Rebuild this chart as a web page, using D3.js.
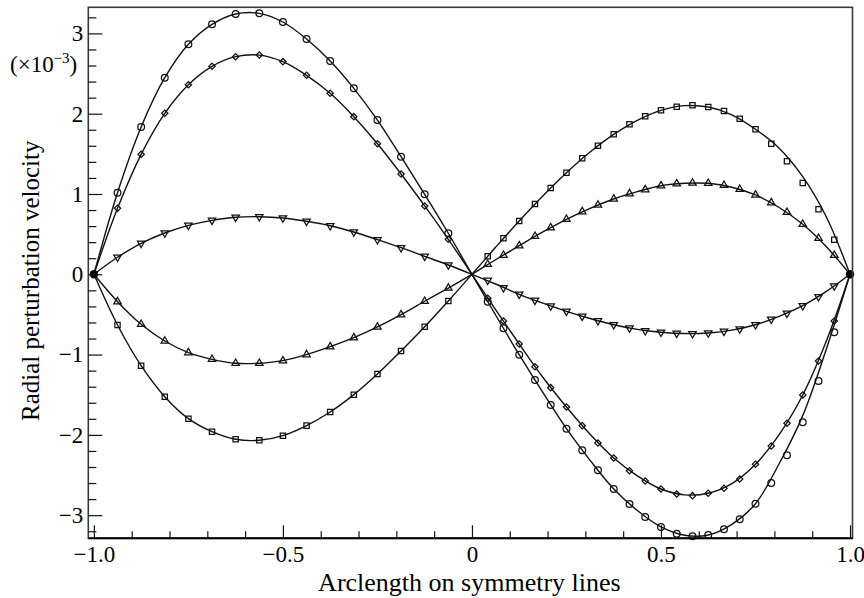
<!DOCTYPE html>
<html>
<head>
<meta charset="utf-8">
<script src="https://cdn.jsdelivr.net/npm/d3@7/dist/d3.min.js"></script>
<style>
  html, body { margin: 0; padding: 0; background: #fff; }
  svg { display: block; }
  text { font-family: "Liberation Serif", "Times New Roman", "DejaVu Serif", serif; fill: #000; }
</style>
</head>
<body>
<svg id="chart" width="864" height="598"></svg>
<script>
// Arclength stations of the fitted curves (step 1/16 over the whole line)
const arcCurve = [-1, -0.9375, -0.875, -0.8125, -0.75, -0.6875, -0.625, -0.5625, -0.5, -0.4375, -0.375, -0.3125, -0.25, -0.1875, -0.125, -0.0625,
  0, 0.0625, 0.125, 0.1875, 0.25, 0.3125, 0.375, 0.4375, 0.5, 0.5625, 0.625, 0.6875, 0.75, 0.8125, 0.875, 0.9375, 1];
// Computed stations on the left branch (step 1/16) and on the right branch (step 1/24)
const arcLeft = [-0.9375, -0.875, -0.8125, -0.75, -0.6875, -0.625, -0.5625, -0.5, -0.4375, -0.375, -0.3125, -0.25, -0.1875, -0.125, -0.0625];
const arcRight = [0.0417, 0.0833, 0.125, 0.1667, 0.2083, 0.25, 0.2917, 0.3333, 0.375, 0.4167, 0.4583, 0.5,
  0.5417, 0.5833, 0.625, 0.6667, 0.7083, 0.75, 0.7917, 0.8333, 0.875, 0.9167, 0.9583];

// Circles
const circCurve = [0, 1.016, 1.834, 2.448, 2.864, 3.113, 3.242, 3.250, 3.142, 2.930, 2.656, 2.316, 1.920, 1.464, 0.996, 0.511,
  0, -0.507, -1.001, -1.472, -1.923, -2.317, -2.674, -2.942, -3.147, -3.250, -3.247, -3.114, -2.857, -2.360, -1.760, -0.930, 0];
const circLeft = [1.016, 1.834, 2.448, 2.864, 3.113, 3.242, 3.250, 3.142, 2.930, 2.656, 2.316, 1.920, 1.464, 0.996, 0.511];
const circRight = [-0.341, -0.672, -1.001, -1.316, -1.628, -1.923, -2.192, -2.441, -2.674, -2.861, -3.023, -3.147,
  -3.230, -3.263, -3.247, -3.176, -3.051, -2.857, -2.599, -2.254, -1.843, -1.329, -0.722];

// Diamonds
const diamCurve = [0, 0.822, 1.494, 2.005, 2.361, 2.590, 2.710, 2.730, 2.648, 2.478, 2.254, 1.963, 1.626, 1.249, 0.851, 0.436,
  0, -0.441, -0.868, -1.282, -1.653, -1.993, -2.288, -2.510, -2.674, -2.747, -2.727, -2.607, -2.366, -1.997, -1.503, -0.831, 0];
const diamLeft = [0.822, 1.494, 2.005, 2.361, 2.590, 2.710, 2.730, 2.648, 2.478, 2.254, 1.963, 1.626, 1.249, 0.851, 0.436];
const diamRight = [-0.299, -0.582, -0.868, -1.151, -1.412, -1.653, -1.885, -2.101, -2.288, -2.446, -2.574, -2.674,
  -2.736, -2.757, -2.727, -2.665, -2.549, -2.366, -2.138, -1.856, -1.503, -1.080, -0.582];

// Downward triangles
const downCurve = [0, 0.212, 0.386, 0.514, 0.610, 0.672, 0.710, 0.717, 0.701, 0.660, 0.605, 0.527, 0.431, 0.331, 0.224, 0.116,
  0, -0.121, -0.249, -0.360, -0.461, -0.551, -0.628, -0.686, -0.722, -0.738, -0.731, -0.696, -0.628, -0.523, -0.391, -0.213, 0];
const downLeft = [0.212, 0.386, 0.514, 0.610, 0.672, 0.710, 0.717, 0.701, 0.660, 0.605, 0.527, 0.431, 0.331, 0.224, 0.116];
const downRight = [-0.075, -0.167, -0.249, -0.324, -0.395, -0.461, -0.523, -0.578, -0.628, -0.669, -0.702, -0.722,
  -0.735, -0.740, -0.731, -0.710, -0.681, -0.628, -0.560, -0.486, -0.391, -0.279, -0.146];

// Upward triangles
const upCurve = [0, -0.341, -0.623, -0.831, -0.976, -1.059, -1.108, -1.108, -1.076, -1.001, -0.902, -0.790, -0.656, -0.503, -0.336, -0.171,
  0, 0.181, 0.356, 0.527, 0.685, 0.822, 0.938, 1.029, 1.103, 1.133, 1.133, 1.084, 0.988, 0.832, 0.623, 0.343, 0];
const upLeft = [-0.341, -0.623, -0.831, -0.976, -1.059, -1.108, -1.108, -1.076, -1.001, -0.902, -0.790, -0.656, -0.503, -0.336, -0.171];
const upRight = [0.125, 0.237, 0.356, 0.473, 0.580, 0.685, 0.780, 0.863, 0.938, 1.004, 1.054, 1.103,
  1.128, 1.137, 1.133, 1.108, 1.059, 0.988, 0.892, 0.772, 0.623, 0.448, 0.237];

// Squares
const sqCurve = [0, -0.631, -1.138, -1.524, -1.798, -1.960, -2.055, -2.067, -2.010, -1.885, -1.715, -1.499, -1.242, -0.955, -0.653, -0.333,
  0, 0.336, 0.664, 0.975, 1.265, 1.523, 1.743, 1.918, 2.042, 2.100, 2.083, 1.986, 1.806, 1.571, 1.216, 0.714, 0];
const sqLeft = [-0.631, -1.138, -1.524, -1.798, -1.960, -2.055, -2.067, -2.010, -1.885, -1.715, -1.499, -1.242, -0.955, -0.653, -0.333];
const sqRight = [0.224, 0.448, 0.664, 0.875, 1.075, 1.265, 1.445, 1.601, 1.743, 1.868, 1.968, 2.042,
  2.087, 2.105, 2.083, 2.034, 1.938, 1.806, 1.626, 1.407, 1.137, 0.809, 0.431];

// Fixed end points of the symmetry lines
const endArc = [-1, 1];
const endVal = [0, 0];

// Axis ticks and labels
const xMajor = [-1, -0.5, 0, 0.5, 1];
const xMajorLabels = ["\u22121.0", "\u22120.5", "0", "0.5", "1.0"];
const xMinor = [-0.9, -0.8, -0.7, -0.6, -0.4, -0.3, -0.2, -0.1, 0.1, 0.2, 0.3, 0.4, 0.6, 0.7, 0.8, 0.9];
const yMajor = [-3, -2, -1, 0, 1, 2, 3];
const yMajorLabels = ["\u22123", "\u22122", "\u22121", "0", "1", "2", "3"];
const yMinor = [-3.2, -2.8, -2.6, -2.4, -2.2, -1.8, -1.6, -1.4, -1.2, -0.8, -0.6, -0.4, -0.2,
  0.2, 0.4, 0.6, 0.8, 1.2, 1.4, 1.6, 1.8, 2.2, 2.4, 2.6, 2.8, 3.2];

const xTitle = "Arclength on symmetry lines";
const yTitle = "Radial perturbation velocity";

// ---------------------------------------------------------------
const svg = d3.select("#chart");
const frame = { left: 88.3, right: 852.5, top: 7.3, bottom: 538.3 };

const x = d3.scaleLinear().domain([-1.0148, 1.0066]).range([frame.left, frame.right]);
const y = d3.scaleLinear().domain([-3.288, 3.325]).range([frame.bottom, frame.top]);

// diamond drawn as a square turned by 45 degrees
const series = [
  { curve: circCurve, left: circLeft, right: circRight, sym: d3.symbolCircle, size: 36, rot: 0 },
  { curve: diamCurve, left: diamLeft, right: diamRight, sym: d3.symbolSquare, size: 20, rot: 45 },
  { curve: downCurve, left: downLeft, right: downRight, sym: d3.symbolTriangle, size: 24, rot: 180 },
  { curve: upCurve, left: upLeft, right: upRight, sym: d3.symbolTriangle, size: 24, rot: 0 },
  { curve: sqCurve, left: sqLeft, right: sqRight, sym: d3.symbolSquare, size: 28, rot: 0 }
];

const plot = svg.append("g");

// curves
const line = d3.line()
  .x(d => x(d[0]))
  .y(d => y(d[1]))
  .curve(d3.curveCatmullRom.alpha(0.5));

series.forEach(s => {
  plot.append("path")
    .attr("d", line(arcCurve.map((a, i) => [a, s.curve[i]])))
    .attr("fill", "none")
    .attr("stroke", "#111")
    .attr("stroke-width", 1.4);
});

// markers
series.forEach(s => {
  const pts = arcLeft.map((a, i) => [a, s.left[i]]).concat(arcRight.map((a, i) => [a, s.right[i]]));
  plot.append("g").selectAll("path")
    .data(pts)
    .join("path")
    .attr("d", d3.symbol().type(s.sym).size(s.size))
    .attr("transform", d => `translate(${x(d[0])},${y(d[1])}) rotate(${s.rot})`)
    .attr("fill", "none")
    .attr("stroke", "#111")
    .attr("stroke-width", 1.25);
});

// end points
plot.append("g").selectAll("circle")
  .data(endArc.map((a, i) => [a, endVal[i]]))
  .join("circle")
  .attr("cx", d => x(d[0]))
  .attr("cy", d => y(d[1]))
  .attr("r", 4.2)
  .attr("fill", "#000");

// frame
svg.append("rect")
  .attr("x", frame.left).attr("y", frame.top)
  .attr("width", frame.right - frame.left)
  .attr("height", frame.bottom - frame.top)
  .attr("fill", "none")
  .attr("stroke", "#3a3a3a")
  .attr("stroke-width", 1.6);

// bottom axis (ticks point into the plot)
const fontTick = 23;
const xAxisMajor = d3.axisBottom(x).tickValues(xMajor).tickSizeInner(-13).tickSizeOuter(0).tickPadding(7)
  .tickFormat((d, i) => xMajorLabels[i]);
const gx = svg.append("g").attr("transform", `translate(0,${frame.bottom})`).call(xAxisMajor);
const xAxisMinor = d3.axisBottom(x).tickValues(xMinor).tickSizeInner(-7).tickSizeOuter(0).tickFormat("");
const gx2 = svg.append("g").attr("transform", `translate(0,${frame.bottom})`).call(xAxisMinor);

// left axis
const yAxisMajor = d3.axisLeft(y).tickValues(yMajor).tickSizeInner(-14).tickSizeOuter(0).tickPadding(5)
  .tickFormat((d, i) => yMajorLabels[i]);
const gy = svg.append("g").attr("transform", `translate(${frame.left},0)`).call(yAxisMajor);
const yAxisMinor = d3.axisLeft(y).tickValues(yMinor).tickSizeInner(-8).tickSizeOuter(0).tickFormat("");
const gy2 = svg.append("g").attr("transform", `translate(${frame.left},0)`).call(yAxisMinor);

[gx, gx2, gy, gy2].forEach(g => {
  g.select(".domain").remove();
  g.selectAll(".tick line").attr("stroke", "#111").attr("stroke-width", 1.2);
  g.selectAll(".tick text")
    .attr("font-family", "'Liberation Serif', 'Times New Roman', serif")
    .attr("font-size", fontTick)
    .attr("fill", "#000");
});
svg.append("line")
  .attr("x1", frame.left).attr("x2", frame.right)
  .attr("y1", frame.bottom).attr("y2", frame.bottom)
  .attr("stroke", "#000").attr("stroke-width", 2);

// axis titles
svg.append("text")
  .attr("x", (frame.left + frame.right) / 2 - 1)
  .attr("y", 591)
  .attr("text-anchor", "middle")
  .attr("font-size", 26)
  .text(xTitle);

svg.append("text")
  .attr("transform", `translate(39,${(frame.top + frame.bottom) / 2 + 8}) rotate(-90)`)
  .attr("text-anchor", "middle")
  .attr("font-size", 25)
  .text(yTitle);

// scale factor note
const mult = svg.append("text").attr("x", 10).attr("y", 72).attr("font-size", 23);
mult.append("tspan").text("(\u00d710");
mult.append("tspan").attr("font-size", 15).attr("dy", -9).text("\u22123");
mult.append("tspan").attr("dy", 9).text(")");
</script>
</body>
</html>
